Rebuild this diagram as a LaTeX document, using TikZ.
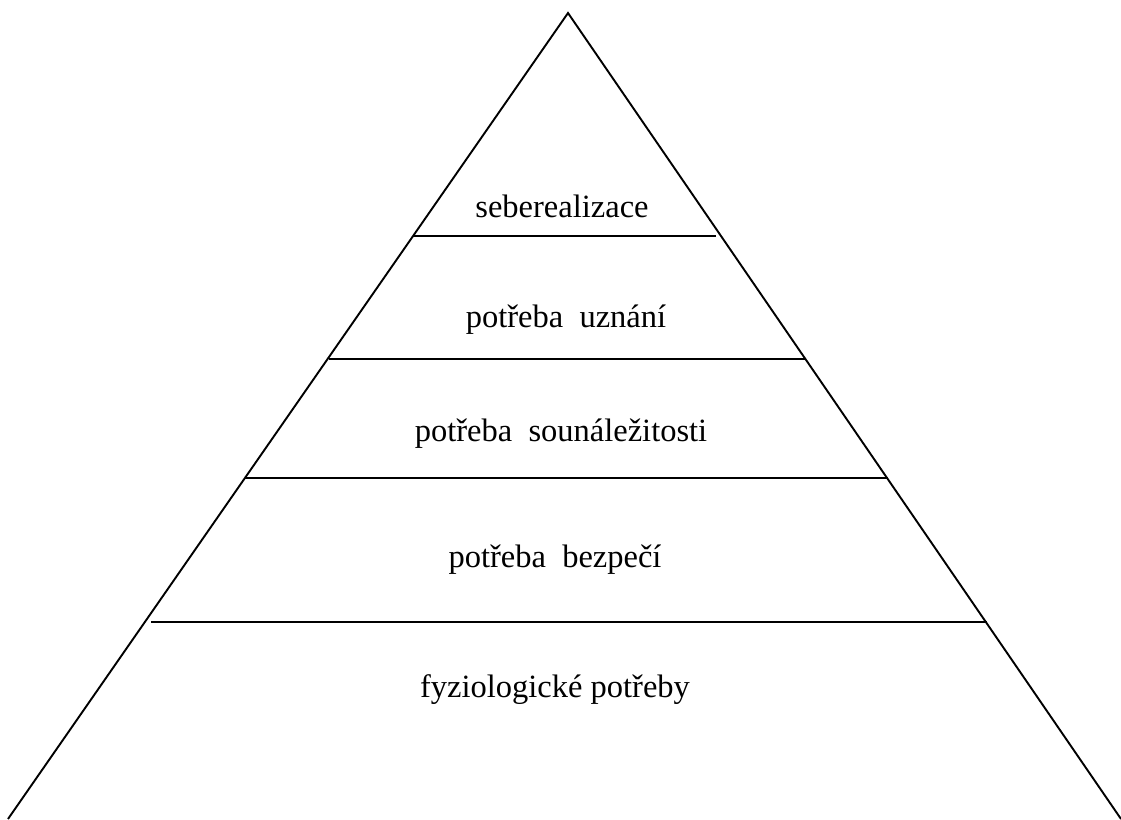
\documentclass[tikz,border=0pt]{standalone}
\usepackage{fontspec}
\setmainfont{Liberation Serif}
\begin{document}
\begin{tikzpicture}[x=1pt,y=-1pt,
  edge/.style={line width=1.9pt, black},
  level/.style={line width=1.9pt, black},
  lbl/.style={anchor=base, inner sep=0pt, font=\fontsize{32.5}{38}\selectfont}]
\useasboundingbox (0,0) rectangle (1121,819);
\coordinate (apex) at (568,13);
\coordinate (bl) at (8,819);
\coordinate (br) at (1121,819);
\draw[edge] (bl) -- (apex) -- (br);
\coordinate (l1a) at (413,236); \coordinate (l1b) at (716,236);
\coordinate (l2a) at (329,359); \coordinate (l2b) at (806,359);
\coordinate (l3a) at (245,478); \coordinate (l3b) at (888,478);
\coordinate (l4a) at (151,622); \coordinate (l4b) at (987,622);
\draw[level] (l1a) -- (l1b);
\draw[level] (l2a) -- (l2b);
\draw[level] (l3a) -- (l3b);
\draw[level] (l4a) -- (l4b);
\node[lbl] (t1) at (562,217) {seberealizace};
\node[lbl] (t2) at (566,327) {potřeba\ \ uznání};
\node[lbl] (t3) at (561,441) {potřeba\ \ sounáležitosti};
\node[lbl] (t4) at (555,567) {potřeba\ \ bezpečí};
\node[lbl] (t5) at (555,697) {fyziologické potřeby};
\end{tikzpicture}
\end{document}
